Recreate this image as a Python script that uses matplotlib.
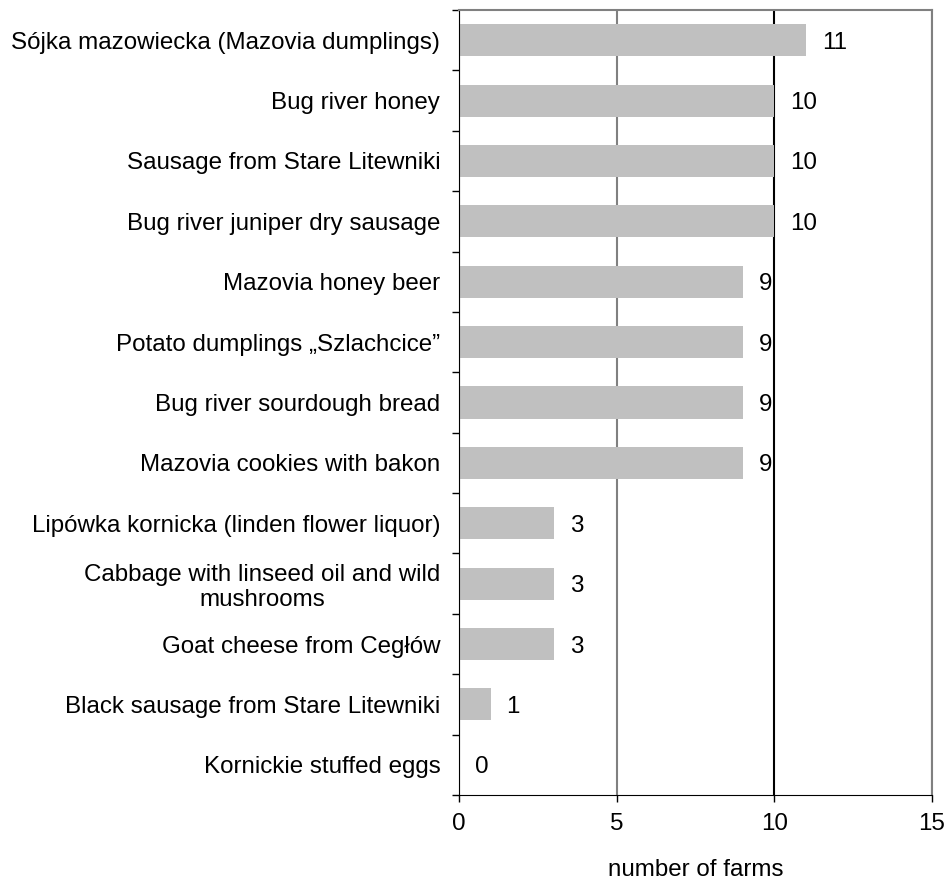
import numpy as np
import matplotlib.pyplot as plt
from matplotlib.ticker import FixedLocator

plt.rcParams['font.family'] = ['Liberation Sans', 'DejaVu Sans']

products = [
    'Sójka mazowiecka (Mazovia dumplings)',
    'Bug river honey',
    'Sausage from Stare Litewniki',
    'Bug river juniper dry sausage',
    'Mazovia honey beer',
    'Potato dumplings \u201eSzlachcice\u201d',
    'Bug river sourdough bread',
    'Mazovia cookies with bakon',
    'Lipówka kornicka (linden flower liquor)',
    'Cabbage with linseed oil and wild\nmushrooms',
    'Goat cheese from Cegłów',
    'Black sausage from Stare Litewniki',
    'Kornickie stuffed eggs',
]
farms = [11, 10, 10, 10, 9, 9, 9, 9, 3, 3, 3, 1, 0]
x_ticks = [0, 5, 10, 15]

FS = 17.4

fig = plt.figure(figsize=(9.48, 8.82), dpi=100)
ax = fig.add_axes([459 / 948, 1 - 795 / 882, (932 - 459) / 948, (795 - 10) / 882])

n = len(products)
ypos = np.arange(n)[::-1]
ax.barh(ypos, farms, height=0.53, color='#C0C0C0', zorder=2)

for y, v in zip(ypos, farms):
    ax.annotate(str(v), (v, y), xytext=(11.5, 0), textcoords='offset points',
                ha='left', va='center_baseline', fontsize=FS, color='black')

ax.set_xlim(0, 15)
ax.set_ylim(-0.5, n - 0.5)
ax.set_xticks(x_ticks)
ax.set_xticklabels([str(t) for t in x_ticks], fontsize=FS)
ax.tick_params(axis='x', direction='out', length=5, width=1, pad=8)

ax.set_yticks(ypos)
ax.set_yticklabels(products, fontsize=FS)
for lab in ax.get_yticklabels():
    lab.set_multialignment('center')
    lab.set_linespacing(1.15)
ax.tick_params(axis='y', which='major', length=0, pad=13.5)
ax.yaxis.set_minor_locator(FixedLocator(np.arange(n + 1) - 0.5))
ax.tick_params(axis='y', which='minor', direction='out', length=5, width=1)

ax.grid(axis='x', color='#808080', linewidth=1.5, zorder=1)
grid_colors = ['#808080', '#808080', 'black', '#808080']
for gl, c in zip(ax.get_xgridlines(), grid_colors):
    gl.set_color(c)
ax.set_axisbelow(True)

ax.spines['top'].set_color('#808080')
ax.spines['right'].set_color('#808080')
ax.spines['top'].set_linewidth(1.5)
ax.spines['right'].set_linewidth(1.5)
ax.spines['left'].set_color('black')
ax.spines['bottom'].set_color('black')

ax.set_xlabel('number of farms', fontsize=FS, labelpad=17)

fig.savefig('out.png', dpi=100)
